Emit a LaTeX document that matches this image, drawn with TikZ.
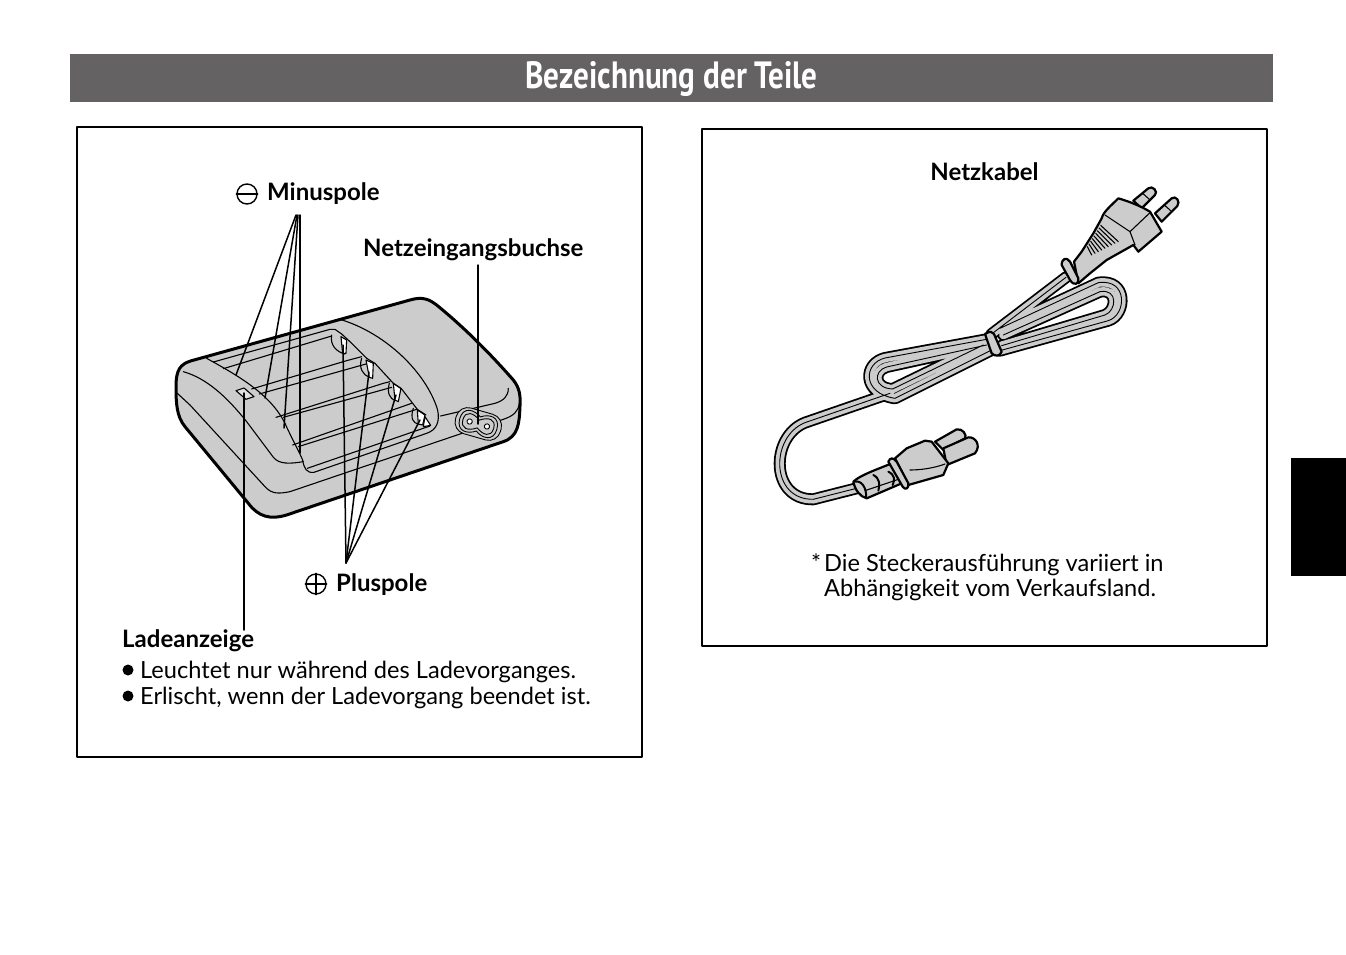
\documentclass[tikz,border=0pt]{standalone}
\usepackage{fontspec}
\setmainfont{Lato}
\newfontfamily\titlefont{PT Sans}
\usepackage{tikz}

\definecolor{partgray}{HTML}{CCCCCC}
\definecolor{barcolor}{HTML}{656263}

\newcommand{\cablepaths}{
  (888,292) -- (665,462)
  (360,640) -- (105,728) .. controls (0,770) and (0,960) .. (130,958) -- (260,925)
  (650,478) -- (345,534) .. controls (280,550) and (275,640) .. (375,655) -- (665,510)
  (650,495) -- (350,561) .. controls (310,572) and (310,625) .. (368,627) -- (640,495)
  (690,512) -- (1015,422) .. controls (1070,405) and (1075,295) .. (985,308) -- (690,445)
  (695,497) -- (1005,405) .. controls (1040,392) and (1045,325) .. (990,335) -- (700,465)
}

\begin{document}
\begin{tikzpicture}[x=1pt,y=-1pt,line cap=round,line join=round,
  panel/.style={draw,line width=2.9pt},
  label/.style={font=\fontsize{23.6}{26}\selectfont,anchor=base west,inner sep=0pt},
  part label/.style={font=\fontsize{24}{26}\selectfont\bfseries,anchor=base west,inner sep=0pt},
  leader/.style={line width=1.5pt},
  pole sign/.style={circle,draw,line width=1.4pt,minimum size=20pt,inner sep=0pt},
  dot/.style={circle,fill,minimum size=11pt,inner sep=0pt},
  body line/.style={line width=1.1pt},
  part line/.style={draw,fill=partgray,line width=2.2pt},
  cable out/.style={line width=12pt},
  cable in/.style={line width=8.4pt,partgray},
  cable mid/.style={line width=.9pt}]

  \useasboundingbox (0,0) rectangle (1346,954);

  \node[fill=barcolor,minimum width=1203pt,minimum height=48pt,inner sep=0pt] (titlebar) at (671.5,78) {};
  \node[text=white,inner sep=0pt,xscale=.82,font=\titlefont\fontsize{38}{40}\selectfont\bfseries] (title) at (671.5,79) {Bezeichnung der Teile};
  \node[fill=black,minimum width=55pt,minimum height=118pt,inner sep=0pt] (tab) at (1318.5,517) {};

  \node[panel,minimum width=565pt,minimum height=630pt,inner sep=0pt] (chargerpanel) at (359.5,442) {};
  \node[panel,minimum width=565pt,minimum height=517pt,inner sep=0pt] (cordpanel) at (984.5,387.5) {};

  % charger
  \begin{scope}[shift={(170,290)},scale=.3333]
    \draw[part line,line width=3pt] (65,212) -- (720,30) .. controls (760,18) and (780,30) .. (800,45)
      .. controls (880,110) and (960,190) .. (1030,270) .. controls (1050,295) and (1052,320) .. (1050,350)
      .. controls (1048,400) and (1045,440) .. (1000,455) -- (350,675) .. controls (300,690) and (265,680) .. (235,640)
      -- (45,410) .. controls (20,380) and (18,340) .. (18,290) .. controls (18,240) and (30,222) .. (65,212) -- cycle;
    % lower edge
    \draw[body line] (22,310) -- (60,345) -- (285,590) .. controls (305,612) and (325,612) .. (360,605)
      -- (1000,388) .. controls (1030,378) and (1045,365) .. (1048,340);
    \draw[body line] (1015,295) .. controls (1015,320) and (1000,332) .. (975,340) -- (812,378);
    % raised front and rear
    \draw[body line] (40,245) .. controls (110,265) and (170,320) .. (230,395) -- (305,495)
      .. controls (320,518) and (340,525) .. (400,515);
    \draw[body line] (110,205) .. controls (200,255) and (300,310) .. (345,400) .. controls (365,445) and (385,480) .. (398,510)
      .. controls (402,535) and (410,550) .. (432,547) -- (770,430) .. controls (800,420) and (810,395) .. (803,360)
      .. controls (770,250) and (650,130) .. (510,88);
    % battery bays
    \draw[body line] (130,216) -- (480,118) -- (495,118) -- (515,132);
    \draw[body line] (160,236) -- (485,138);
    \draw[body line] (245,297) -- (530,212) -- (575,200);
    \draw[body line] (268,312) -- (588,222);
    \draw[body line] (318,382) -- (640,280) -- (660,275);
    \draw[body line] (340,382) -- (665,292);
    \draw[body line] (368,465) -- (725,340);
    \draw[body line] (385,470) -- (740,358);
    \draw[body line] (412,535) -- (780,408);
    % contacts
    \draw[body line] (540,155) -- (590,205);
    \draw[body line] (615,220) -- (670,280);
    \draw[body line] (695,297) -- (742,358);
    \draw[body line,fill=white] (765,380) -- (782,406) -- (760,410) -- cycle;
    \draw[body line] (485,135) .. controls (480,165) and (498,185) .. (525,192);
    \draw[body line] (575,205) .. controls (565,235) and (580,255) .. (598,262);
    \draw[body line] (658,280) .. controls (650,310) and (660,325) .. (675,332);
    \draw[body line] (730,355) .. controls (720,385) and (730,400) .. (745,402);
    \draw[body line,fill=white] (513,140) -- (530,150) -- (528,190) -- (518,190) -- cycle;
    \draw[body line,fill=white] (588,210) -- (610,220) -- (608,265) -- (598,262) -- cycle;
    \draw[body line,fill=white] (670,280) -- (693,295) -- (685,335) -- (675,330) -- cycle;
    \draw[body line,fill=white] (742,360) -- (765,375) -- (758,405) -- (745,402) -- cycle;
    \draw[body line] (515,132) -- (540,155);
    \draw[body line] (590,205) -- (615,220);
    \draw[body line] (670,280) -- (695,297);
    \draw[body line] (742,358) -- (768,375);
    % indicator lamp
    \draw[body line,fill=partgray!60] (198,302) -- (222,294) -- (252,320) -- (228,328) -- cycle;
    % inlet
    \begin{scope}[shift={(925,402)},rotate=-16,body line/.style={line width=.9pt}]
      \draw[body line,fill=partgray,rounded corners=12pt] (-70,-40) rectangle (70,40);
      \draw[body line,fill=partgray] (-58,0) .. controls (-58,-40) and (-22,-38) .. (0,-22) .. controls (22,-38) and (58,-40) .. (58,0)
        .. controls (58,40) and (22,38) .. (0,22) .. controls (-22,38) and (-58,40) .. (-58,0) -- cycle;
      \draw[body line] (-48,0) .. controls (-48,-30) and (-22,-28) .. (0,-12) .. controls (22,-28) and (48,-30) .. (48,0)
        .. controls (48,30) and (22,28) .. (0,12) .. controls (-22,28) and (-48,30) .. (-48,0) -- cycle;
      \draw[body line,fill=white] (-27,0) circle (8);
      \draw[body line,fill=white] (27,0) circle (8);
    \end{scope}
  \end{scope}

  % power cord
  \begin{scope}[shift={(770,180)},scale=.3333]
    \draw[cable out] \cablepaths;
    \draw[cable in] \cablepaths;
    \draw[cable mid] \cablepaths;
    % tie
    \draw[part line] (645,462) .. controls (660,452) and (668,455) .. (672,462) -- (695,515) .. controls (690,530) and (675,530) .. (665,520) -- cycle;
  \end{scope}

  % plug
  \begin{scope}[shift={(1050,180)},scale=.3333]
    \draw[part line] (250,62) -- (295,25) .. controls (308,15) and (325,35) .. (315,45) -- (275,85) -- cycle;
    \draw[part line] (315,100) -- (365,55) .. controls (378,45) and (392,65) .. (382,78) -- (335,125) -- cycle;
    \draw[body line] (278,40) -- (298,58);
    \draw[body line] (343,75) -- (362,92);
    \draw[part line] (85,310) -- (72,245) -- (95,215) -- (130,160) -- (155,115) .. controls (160,95) and (185,75) .. (205,55)
      .. controls (240,65) and (275,80) .. (300,95) -- (335,155) -- (265,215) -- (250,195) -- (170,240) -- (120,280) -- (85,310) -- cycle;
    \draw[body line] (165,105) -- (240,155) -- (255,195);
    \draw[body line] (240,155) -- (300,98);
    \foreach \i in {0,...,8}
      \draw[body line] ({112+\i*5},{200-\i*8}) -- ({125+\i*10},{225-\i*5});
    \draw[part line] (35,255) .. controls (35,235) and (50,230) .. (60,245) -- (85,295) .. controls (88,312) and (72,320) .. (60,300) -- cycle;
  \end{scope}

  % appliance connector
  \begin{scope}[shift={(840,420)},scale=.3333]
    \draw[part line] (285,65) -- (350,28) .. controls (368,25) and (382,45) .. (375,55) -- (310,90) -- cycle;
    \draw[part line] (310,85) -- (385,52) .. controls (405,50) and (425,75) .. (405,100) -- (320,135) -- cycle;
    \draw[part line] (165,115) -- (200,85) -- (255,62) -- (275,65) -- (325,130) -- (310,165) -- (205,195) -- cycle;
    \draw[body line] (210,150) .. controls (240,150) and (280,145) .. (315,132);
    \draw[part line] (40,185) .. controls (60,165) and (120,145) .. (155,130) -- (185,190) -- (80,235) .. controls (60,230) and (45,210) .. (40,185) -- cycle;
    \draw[part line] (145,125) .. controls (150,112) and (160,112) .. (170,125) -- (205,190) .. controls (208,205) and (195,212) .. (188,200) -- cycle;
    \draw[body line,line width=2pt] (45,185) .. controls (65,180) and (80,205) .. (78,230);
    \draw[body line,line width=2pt] (100,165) .. controls (120,175) and (120,195) .. (115,212);
    \draw[body line,line width=2pt] (145,155) .. controls (165,165) and (165,180) .. (158,195);
    \draw[body line] (75,212) -- (175,178);
  \end{scope}

  % labels
  \node[pole sign] (minussign) at (247,194) {};
  \draw[line width=1.4pt] (minussign.west) -- (minussign.east);
  \node[part label] (minuslabel) at (267,200.5) {Minuspole};
  \node[part label] (inletlabel) at (363,256) {Netzeingangsbuchse};
  \node[pole sign] (plussign) at (316,584) {};
  \draw[line width=1.4pt] (plussign.west) -- (plussign.east);
  \draw[line width=1.4pt] (plussign.north) -- (plussign.south);
  \node[part label] (pluslabel) at (336,591) {Pluspole};
  \node[part label] (lamplabel) at (122,647) {Ladeanzeige};
  \node[dot] (dota) at (128,670) {};
  \node[label] (linea) at (140,678) {Leuchtet nur während des Ladevorganges.};
  \node[dot] (dotb) at (128,696) {};
  \node[label] (lineb) at (140,704) {Erlischt, wenn der Ladevorgang beendet ist.};
  \node[part label,anchor=base] (cordlabel) at (984.5,180) {Netzkabel};
  \node[label] (notea) at (811,571) {*};
  \node[label] (noteb) at (824,571) {Die Steckerausführung variiert in};
  \node[label] (notec) at (824,596) {Abhängigkeit vom Verkaufsland.};

  % leaders
  \coordinate (minustopa) at (296,215);
  \coordinate (minustopb) at (297,215);
  \coordinate (minustopc) at (298,215);
  \coordinate (minustopd) at (300,215);
  \coordinate (baya) at (236,375);
  \coordinate (bayb) at (265,398);
  \coordinate (bayc) at (284,428);
  \coordinate (bayd) at (300,453);
  \coordinate (plustop) at (346,563);
  \coordinate (contacta) at (343,345);
  \coordinate (contactb) at (369,372);
  \coordinate (contactc) at (396,395);
  \coordinate (contactd) at (420,420);
  \coordinate (inlettop) at (478,265);
  \coordinate (inlet) at (478,424);
  \coordinate (lamp) at (244,393);
  \coordinate (lampend) at (244,630);

  \draw[leader] (minustopa) -- (baya);
  \draw[leader] (minustopb) -- (bayb);
  \draw[leader] (minustopc) -- (bayc);
  \draw[leader] (minustopd) -- (bayd);
  \draw[leader] (plustop) -- (contacta);
  \draw[leader] (plustop) -- (contactb);
  \draw[leader] (plustop) -- (contactc);
  \draw[leader] (plustop) -- (contactd);
  \draw[leader] (inlettop) -- (inlet);
  \draw[leader] (lamp) -- (lampend);

\end{tikzpicture}
\end{document}
